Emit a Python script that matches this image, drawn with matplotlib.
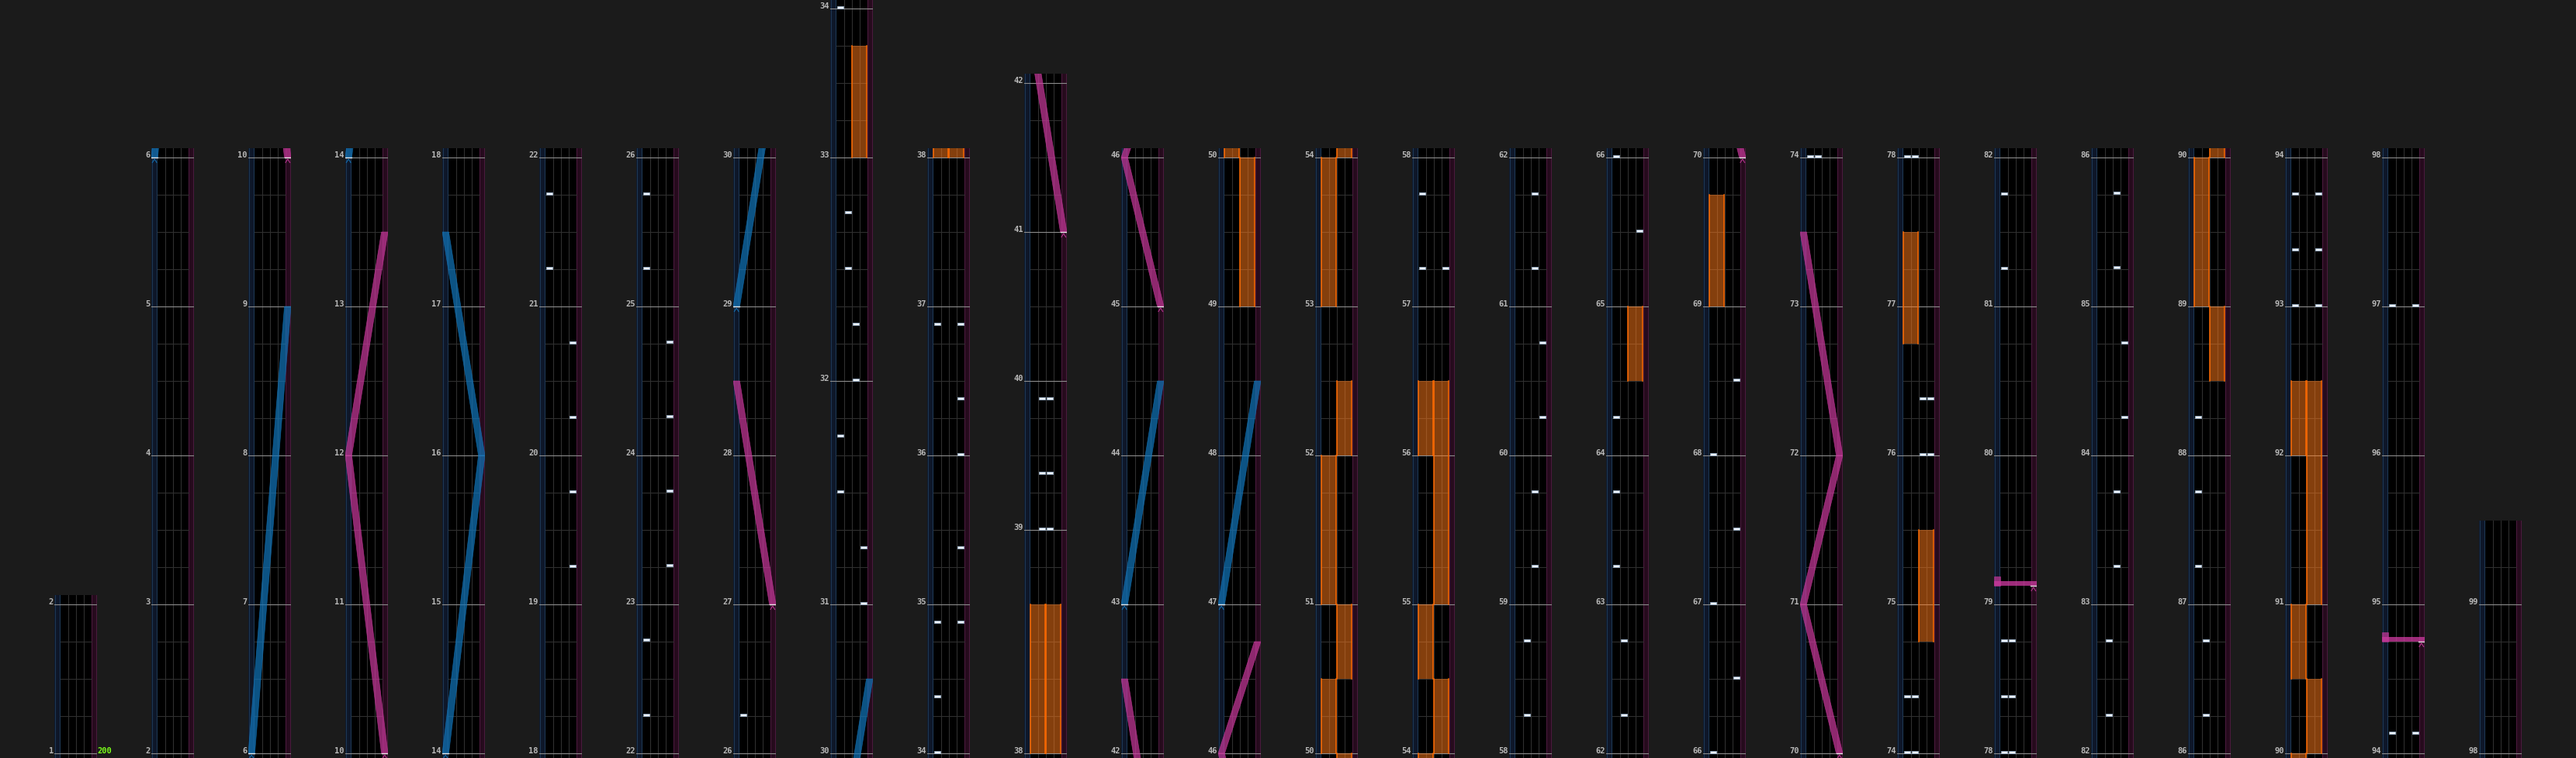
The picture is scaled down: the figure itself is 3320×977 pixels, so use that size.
import matplotlib
matplotlib.use('Agg')
import matplotlib.pyplot as plt
from matplotlib.patches import Rectangle, Polygon

# 小节长度（拍），没写的都是 4 拍
measure_len = {31: 6, 32: 6, 38: 6, 99: 2}
last_measure = 99

# 每一列显示的小节范围
col_first = [1] + [4 * c - 2 for c in range(1, 26)]
col_last = [1] + [4 * c + 1 for c in range(1, 25)] + [99]

# BT 按键: (轨道 0-3, 小节, 拍)
bt_notes = [
    (0, 21, 3), (0, 21, 1), (3, 20, 3), (3, 20, 1), (3, 19, 3), (3, 19, 1),
    (0, 25, 3), (0, 25, 1), (3, 24, 3), (3, 24, 1), (3, 23, 3), (3, 23, 1),
    (0, 22, 3), (0, 22, 1), (0, 26, 1),
    (3, 31, 0), (3, 31, 1.5), (0, 31, 3), (0, 31, 4.5),
    (2, 32, 0), (2, 32, 1.5), (1, 32, 3), (1, 32, 4.5), (0, 34, 0),
    (0, 34, 1.5), (0, 34, 3.5), (3, 34, 3.5), (3, 35, 1.5), (3, 36, 0),
    (3, 36, 1.5), (0, 36, 3.5), (3, 36, 3.5),
    (1, 39, 0), (2, 39, 0), (1, 39, 1.5), (2, 39, 1.5), (1, 39, 3.5), (2, 39, 3.5),
    (0, 57, 3), (0, 57, 1), (3, 57, 1),
    (2, 61, 3), (2, 61, 1), (3, 60, 3), (3, 60, 1), (2, 59, 3), (2, 59, 1),
    (1, 58, 3), (1, 58, 1),
    (0, 66, 0), (3, 65, 2), (0, 64, 1), (0, 63, 3), (0, 63, 1), (1, 62, 3), (1, 62, 1),
    (3, 68, 2), (0, 68, 0), (3, 67, 2), (0, 67, 0), (3, 66, 2),
    (0, 74, 0), (1, 74, 0), (0, 74, 1.5), (1, 74, 1.5),
    (2, 76, 0), (3, 76, 0), (2, 76, 1.5), (3, 76, 1.5), (0, 78, 0), (1, 78, 0),
    (0, 78, 1.5), (1, 78, 1.5), (0, 78, 3), (1, 78, 3), (0, 81, 1), (0, 81, 3),
    (2, 85, 3), (2, 85, 1), (3, 84, 3), (3, 84, 1), (2, 83, 3), (2, 83, 1),
    (1, 82, 3), (1, 82, 1),
    (0, 88, 1), (0, 87, 3), (0, 87, 1), (1, 86, 3), (1, 86, 1),
    (0, 93, 3), (3, 93, 3), (0, 93, 1.5), (3, 93, 1.5), (0, 93, 0), (3, 93, 0),
    (0, 97, 0), (3, 97, 0), (0, 94, 0.5), (3, 94, 0.5),
]

# FX 长押: (L/R, 起始小节, 起始拍, 结束小节, 结束拍)
fx_notes = [
    ('R', 33, 0, 33, 3), ('L', 38, 0, 38, 4), ('R', 38, 0, 38, 4),
    ('R', 49, 0, 50, 0), ('L', 50, 0, 50, 2), ('R', 50, 2, 51, 0),
    ('L', 51, 0, 52, 0), ('R', 52, 0, 52, 2), ('L', 53, 0, 54, 0),
    ('R', 54, 0, 54, 2), ('L', 54, 2, 55, 0), ('R', 55, 0, 56, 2),
    ('L', 56, 0, 56, 2), ('R', 64, 2, 65, 0), ('L', 69, 0, 69, 3),
    ('R', 74, 3, 75, 2), ('L', 76, 3, 77, 2), ('R', 88, 2, 89, 0),
    ('L', 89, 0, 90, 0), ('R', 90, 0, 90, 2), ('L', 90, 2, 91, 0),
    ('R', 91, 0, 92, 2), ('L', 92, 0, 92, 2),
]

# 旋钮激光: (左/右, [(小节, 拍, 位置 0-1), ...])，同一时刻两点 = 甩
lasers = [
    ('L', [(6, 0, 0), (9, 0, 1)]),
    ('R', [(10, 0, 1), (12, 0, 0), (13, 2, 1)]),
    ('L', [(14, 0, 0), (16, 0, 1), (17, 2, 0)]),
    ('R', [(27, 0, 1), (28, 2, 0)]),
    ('L', [(29, 0, 0), (30, 2, 1)]),
    ('R', [(41, 0, 1), (42, 2, 0)]),
    ('L', [(43, 0, 0), (44, 2, 1)]),
    ('R', [(45, 0, 1), (46, 0, 0), (46, 3, 1)]),
    ('L', [(47, 0, 0), (48, 2, 1)]),
    ('R', [(70, 0, 1), (71, 0, 0), (72, 0, 1), (73, 2, 0)]),
    ('R', [(79, 0.5, 1), (79, 0.5, 0), (79, 0.75, 0)]),
    ('R', [(94, 3, 1), (94, 3, 0), (94, 3.25, 0)]),
]

bpm_marks = [(1, 0, '200')]

W, H = 3320, 978
BG = '#1b1b1b'
laser_col = {'L': '#1274b8', 'R': '#c6389a'}
LASER_W = 0.84

mstart = {}
acc = 0
for m in range(1, last_measure + 2):
    mstart[m] = acc
    acc += measure_len.get(m, 4)


def tb(m, b):
    return mstart[m] + b


fig = plt.figure(figsize=(W / 100, H / 100), dpi=100, facecolor=BG)

for c in range(len(col_first)):
    first, last = col_first[c], col_last[c]
    s = mstart[first]
    e = mstart[last] + measure_len.get(last, 4)
    nb = e - s
    left = 70 + 125 * c
    ax = fig.add_axes([left / W, -6 / H, 55 / W, (48 * nb + 24) / H])
    ax.set_xlim(0, 5.5)
    ax.set_ylim(s - 0.25, e + 0.25)
    ax.axis('off')
    lo, hi = s - 1, e + 1

    # 底色
    ax.add_patch(Rectangle((0, lo), 0.77, hi - lo, fc='#0e1729', ec='none', zorder=0))
    ax.add_patch(Rectangle((0.77, lo), 4.0, hi - lo, fc='black', ec='none', zorder=0))
    ax.add_patch(Rectangle((4.77, lo), 0.73, hi - lo, fc='#260b1d', ec='none', zorder=0))
    for x in (0.06, 0.72):
        ax.axvline(x, color='#1d3753', lw=0.8, zorder=1)
    for x in (4.83, 5.44):
        ax.axvline(x, color='#4a1a3d', lw=0.8, zorder=1)
    for x in (1.77, 2.77, 3.77):
        ax.axvline(x, color='#2f2f2f', lw=0.8, zorder=1)

    # 拍线 / 小节线
    for m in range(first, last + 1):
        for k in range(1, measure_len.get(m, 4)):
            ax.plot([0.77, 4.77], [mstart[m] + k] * 2, color='#2f2f2f', lw=0.8, zorder=1)
    line_ms = list(range(first, last + 1)) + ([last + 1] if last < last_measure else [])
    for m in line_ms:
        y = mstart[m]
        ax.plot([0, 5.5], [y, y], color='#8c8c8c', lw=0.8, zorder=2)
        ax.text(-0.12, y + 1.2 / 48, str(m), ha='right', va='baseline', fontsize=7.5,
                family='DejaVu Sans Mono', fontweight='bold', color='#b8b8b8', clip_on=False)

    # FX
    for side, m0, b0, m1, b1 in fx_notes:
        x0 = 0.8 if side == 'L' else 2.8
        y0, y1 = tb(m0, b0), tb(m1, b1)
        if y1 < lo or y0 > hi:
            continue
        ax.add_patch(Rectangle((x0, y0), 1.94, y1 - y0, fc='#ff7a1a', alpha=0.52, ec='none', zorder=3))
        ax.plot([x0, x0], [y0, y1], color='#ff6a00', lw=1.1, zorder=3)
        ax.plot([x0 + 1.94, x0 + 1.94], [y0, y1], color='#ff6a00', lw=1.1, zorder=3)

    # 激光
    for side, pts in lasers:
        col = laser_col[side]
        tp = [(tb(m, b), p * (5.5 - LASER_W)) for m, b, p in pts]
        if tp[-1][0] < lo or tp[0][0] > hi:
            continue
        for (t0, x0), (t1, x1) in zip(tp[:-1], tp[1:]):
            if t1 == t0:
                xa, xb = min(x0, x1), max(x0, x1) + LASER_W
                ax.add_patch(Rectangle((xa, t0), xb - xa, 0.125, fc=col, alpha=0.8, ec='none', zorder=4))
            else:
                ax.add_patch(Polygon([(x0, t0), (x0 + LASER_W, t0), (x1 + LASER_W, t1), (x1, t1)],
                                     closed=True, fc=col, alpha=0.72, ec=col, lw=0.5, zorder=4))
        t0, x0 = tp[0]
        ax.plot([x0, x0 + LASER_W], [t0, t0], color='white', lw=1.0, alpha=0.85, zorder=5)
        xc = x0 + LASER_W / 2
        ax.plot([xc - 0.28, xc, xc + 0.28], [t0 - 6.5 / 48, t0 - 2 / 48, t0 - 6.5 / 48],
                color=col, lw=0.8, alpha=0.9, zorder=5)

    # BT
    for lane, m, b in bt_notes:
        y = tb(m, b)
        if y < lo or y > hi:
            continue
        ax.add_patch(Rectangle((0.77 + lane + 0.08, y + 0.5 / 48), 0.84, 3 / 48,
                               fc='#eef3fb', ec='#9ab0c8', lw=0.6, zorder=6))

    for m, b, txt in bpm_marks:
        y = tb(m, b)
        if s <= y <= e:
            ax.text(5.55, y + 0.5 / 48, txt, ha='left', va='baseline', fontsize=7.5,
                    family='DejaVu Sans Mono', fontweight='bold', color='#7cff1a', clip_on=False)

fig.savefig('out.png', dpi=100, facecolor=BG)
